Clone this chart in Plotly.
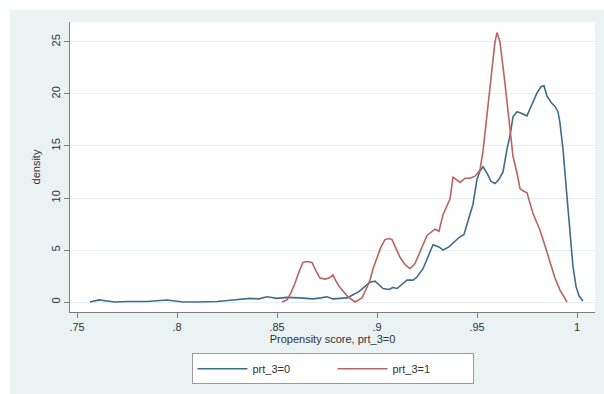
import plotly.graph_objects as go

# prt_3=0 density (blue)
x0 = [0.7565, 0.761, 0.765, 0.769, 0.775, 0.785, 0.795, 0.800, 0.803, 0.810, 0.820, 0.828,
      0.8365, 0.841, 0.845, 0.850, 0.855, 0.8615, 0.865, 0.868, 0.872, 0.875, 0.878, 0.882,
      0.885, 0.888, 0.891, 0.894, 0.8965, 0.899, 0.901, 0.903, 0.906, 0.908, 0.910, 0.913,
      0.915, 0.918, 0.920, 0.923, 0.926, 0.928, 0.931, 0.933, 0.936, 0.938, 0.941, 0.9435,
      0.946, 0.948, 0.950, 0.9515, 0.953, 0.955, 0.957, 0.959, 0.961, 0.963, 0.965, 0.9665,
      0.968, 0.970, 0.9715, 0.975, 0.977, 0.980, 0.982, 0.9835, 0.985, 0.987, 0.989, 0.9905,
      0.9915, 0.993, 0.995, 0.9965, 0.998, 0.9995, 1.001, 1.003]
d0 = [0.0, 0.2, 0.1, 0.0, 0.05, 0.05, 0.2, 0.1, 0.0, 0.0, 0.05, 0.2,
      0.35, 0.3, 0.5, 0.35, 0.45, 0.4, 0.35, 0.3, 0.4, 0.5, 0.3, 0.35,
      0.4, 0.7, 1.0, 1.5, 1.9, 2.0, 1.6, 1.3, 1.2, 1.4, 1.3, 1.8,
      2.1, 2.1, 2.4, 3.2, 4.6, 5.5, 5.3, 5.0, 5.3, 5.7, 6.2, 6.5,
      8.2, 9.4, 11.8, 12.6, 13.0, 12.4, 11.6, 11.4, 11.8, 12.5, 14.7, 16.0,
      17.8, 18.3, 18.2, 17.9, 18.8, 20.1, 20.7, 20.8, 19.8, 19.2, 18.8, 18.3,
      17.2, 14.7, 10.1, 6.5, 3.4, 1.5, 0.6, 0.1]

# prt_3=1 density (red)
x1 = [0.8525, 0.855, 0.857, 0.859, 0.861, 0.863, 0.865, 0.8675, 0.8695, 0.8715, 0.874, 0.876,
      0.878, 0.8795, 0.8815, 0.8835, 0.8855, 0.889, 0.8925, 0.8945, 0.8965, 0.898, 0.900, 0.902,
      0.904, 0.906, 0.9075, 0.9095, 0.9115, 0.914, 0.9165, 0.919, 0.922, 0.925, 0.929, 0.931,
      0.933, 0.9365, 0.938, 0.940, 0.9415, 0.944, 0.9465, 0.949, 0.9515, 0.953, 0.955, 0.957,
      0.959, 0.960, 0.9615, 0.964, 0.9665, 0.968, 0.970, 0.9715, 0.973, 0.975, 0.978, 0.9815,
      0.984, 0.9865, 0.989, 0.9915, 0.995]
d1 = [0.0, 0.2, 0.9, 1.8, 2.9, 3.8, 3.9, 3.8, 3.0, 2.3, 2.2, 2.3,
      2.6, 2.0, 1.4, 0.9, 0.5, 0.0, 0.4, 1.2, 2.1, 3.2, 4.3, 5.3,
      6.0, 6.1, 6.0, 5.2, 4.3, 3.6, 3.2, 3.7, 5.0, 6.4, 7.0, 6.8,
      8.4, 9.9, 12.0, 11.7, 11.5, 11.9, 11.9, 12.1, 12.7, 14.5, 17.8, 21.5,
      25.0, 25.9, 25.0, 21.0, 16.2, 14.0, 12.4, 10.9, 10.7, 10.5, 8.5, 6.9,
      5.4, 3.75, 2.3, 1.15, 0.0]

x_ticks = [0.75, 0.8, 0.85, 0.9, 0.95, 1.0]
x_ticktext = [".75", ".8", ".85", ".9", ".95", "1"]
y_ticks = [0, 5, 10, 15, 20, 25]
series_names = ["prt_3=0", "prt_3=1"]

BG = "#EAF2F3"
FONT = "Liberation Sans, Arial, sans-serif"

fig = go.Figure()
fig.add_trace(go.Scatter(x=x0, y=d0, mode="lines", name=series_names[0],
                         line=dict(color="#3f6d88", width=1.6)))
fig.add_trace(go.Scatter(x=x1, y=d1, mode="lines", name=series_names[1],
                         line=dict(color="#b86462", width=1.6)))

fig.update_layout(
    width=604, height=394,
    margin=dict(l=70, r=9, t=22, b=82),
    paper_bgcolor=BG,
    plot_bgcolor="white",
    font=dict(family=FONT, size=11, color="#333333"),
    showlegend=True,
    legend=dict(orientation="h", x=0.5, xanchor="center", y=-0.142, yanchor="top",
                bgcolor="white", bordercolor="#9a9a9a", borderwidth=1,
                entrywidth=75, itemwidth=50,
                font=dict(family=FONT, size=11, color="#333333")),
    xaxis=dict(range=[0.7465, 1.009], tickvals=x_ticks, ticktext=x_ticktext,
               showgrid=False, zeroline=False, showline=True, linecolor="#7d7d7d",
               linewidth=1, ticks="outside", ticklen=5, tickcolor="#7d7d7d",
               title=dict(text="Propensity score, prt_3=0", standoff=2,
                          font=dict(family=FONT, size=11, color="#333333"))),
    yaxis=dict(range=[-0.96, 26.92], tickvals=y_ticks, tickangle=-90,
               showgrid=True, gridcolor="#e6eef0", gridwidth=1, zeroline=False,
               showline=True, linecolor="#7d7d7d", linewidth=1,
               ticks="outside", ticklen=5, tickcolor="#7d7d7d",
               title=dict(text="density", standoff=6,
                          font=dict(family=FONT, size=11, color="#333333"))),
    shapes=[
        dict(type="rect", xref="paper", yref="paper", x0=-0.2, x1=1.1,
             y0=(312 - 10) / 290, y1=1.2, fillcolor="white", line=dict(width=0), layer="above"),
        dict(type="rect", xref="paper", yref="paper", x0=-0.2, x1=(10 - 70) / 525,
             y0=-0.4, y1=1.2, fillcolor="white", line=dict(width=0), layer="above"),
    ],
)

fig.write_html("out.html")
